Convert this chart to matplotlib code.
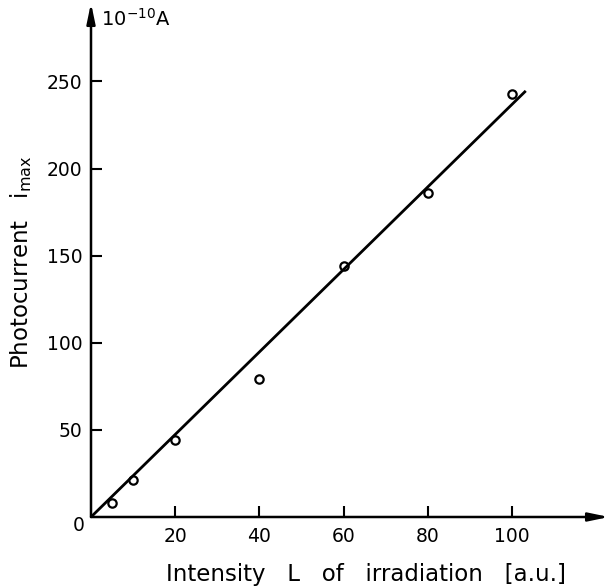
import matplotlib.pyplot as plt

# measured points (intensity, photocurrent)
intensity = [5, 10, 20, 40, 60, 80, 100]
current = [8, 21, 44, 79, 144, 186, 243]

# fitted straight line
fit_x = [0, 103]
fit_y = [0, 244]

xticks = [20, 40, 60, 80, 100]
yticks = [50, 100, 150, 200, 250]

fig = plt.figure(figsize=(6.09, 5.87), dpi=100)
ax = fig.add_axes([91 / 609, 70 / 587, 518 / 609, 514 / 587])
ax.set_xlim(0, 123)
ax.set_ylim(0, 295)

for s in ax.spines.values():
    s.set_visible(False)

# axes with arrow heads
ax.annotate('', xy=(1.0, 0), xytext=(0, 0), xycoords='axes fraction',
            arrowprops=dict(arrowstyle='-|>,head_length=1.2,head_width=0.25', color='black', lw=1.8,
                            shrinkA=0, shrinkB=0))
ax.annotate('', xy=(0, 1.0), xytext=(0, 0), xycoords='axes fraction',
            arrowprops=dict(arrowstyle='-|>,head_length=1.2,head_width=0.25', color='black', lw=1.8,
                            shrinkA=0, shrinkB=0))

ax.plot(fit_x, fit_y, color='black', lw=2)
ax.plot(intensity, current, 'o', mfc='none', mec='black', ms=6, mew=1.6)

ax.set_xticks(xticks)
ax.set_yticks(yticks)
ax.tick_params(direction='in', length=8, width=1.5, labelsize=13.5)
ax.tick_params(axis='x', pad=7)
ax.tick_params(axis='y', pad=6)
ax.text(-0.012, -0.016, '0', transform=ax.transAxes, ha='right', va='center', fontsize=13.5)

ax.text(0.02, 0.99, r'$10^{-10}$A', transform=ax.transAxes, ha='left', va='top', fontsize=14)

ax.set_xlabel('Intensity   L   of   irradiation   [a.u.]', fontsize=16.5)
ax.xaxis.set_label_coords(0.53, -0.09)
ax.set_ylabel(r'Photocurrent   $\mathregular{i_{max}}$', fontsize=16.5)
ax.yaxis.set_label_coords(-0.11, 0.496)

fig.savefig('out.png', dpi=100)
